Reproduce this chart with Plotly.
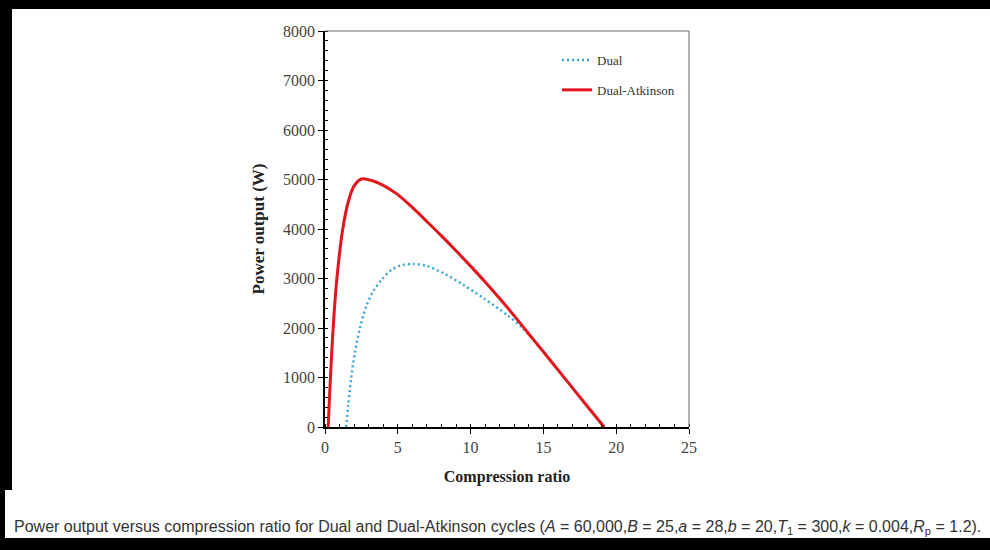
import plotly.graph_objects as go

# Dual-Atkinson cycle (solid red)
ratio_atk = [0.22, 0.3, 0.4, 0.55, 0.8, 1.22, 1.6, 2.0, 2.5, 3.0, 3.5, 4.0, 4.5, 5.0,
             6.0, 7.0, 8.0, 9.0, 10.0, 11.0, 12.0, 13.0, 14.0, 15.0, 16.0, 17.0, 18.0, 19.17]
power_atk = [0, 550, 1150, 1950, 2950, 4000, 4550, 4870, 5010, 4995, 4950, 4880, 4795, 4695,
             4435, 4150, 3860, 3560, 3250, 2930, 2595, 2245, 1880, 1520, 1155, 790, 425, 0]

# Dual cycle (dotted blue)
ratio_dual = [1.45, 1.6, 1.8, 2.05, 2.4, 2.85, 3.33, 3.9, 4.59, 5.28, 6.08, 7.0,
              8.15, 9.52, 10.9, 12.51, 13.5, 14.12, 15.0, 16.0, 17.0, 18.0, 19.2]
power_dual = [0, 450, 1000, 1500, 2000, 2450, 2750, 2980, 3180, 3270, 3293, 3253,
              3105, 2869, 2600, 2263, 2020, 1824, 1515, 1150, 785, 420, 0]

W, H = 990, 550
# plot area in pixels
L, R, T, B = 325, 689, 31, 427

fig = go.Figure()
fig.add_trace(go.Scatter(x=ratio_dual, y=power_dual, mode="lines", name="Dual",
                         legendgroup="a",
                         line=dict(color="#3aa8d8", width=2.5, dash="2px,3px", shape="spline", smoothing=0.8)))
fig.add_trace(go.Scatter(x=ratio_atk, y=power_atk, mode="lines", name="Dual-Atkinson",
                         legendgroup="b",
                         line=dict(color="#e3151d", width=3, shape="spline", smoothing=1.0)))

serif = "Liberation Serif, Times New Roman, serif"
tickfont = dict(family=serif, size=16, color="#444")

fig.update_xaxes(domain=[L / W, R / W], range=[0, 25], tickvals=[0, 5, 10, 15, 20, 25],
                 showgrid=False, zeroline=False, showline=True, linecolor="black", linewidth=1.5,
                 ticks="outside", ticklen=5, tickcolor="black", tickfont=tickfont,
                 minor=dict(dtick=1, ticks="inside", ticklen=3, tickcolor="black"),
                 title=dict(text="<b>Compression ratio</b>", font=dict(family=serif, size=16, color="#222"),
                            standoff=16),
                 automargin=False)
fig.update_yaxes(domain=[(H - B) / H, (H - T) / H], range=[0, 8000], dtick=1000,
                 showgrid=False, zeroline=False, showline=True, linecolor="black", linewidth=1.5,
                 ticks="outside", ticklen=5, tickcolor="black", tickfont=tickfont,
                 minor=dict(dtick=200, ticks="inside", ticklen=3, tickcolor="black"),
                 title=dict(text="<b>Power output (W)</b>", font=dict(family=serif, size=17, color="#222"),
                            standoff=14),
                 automargin=False)

def px(x):
    return x / W

def py(y):
    return 1 - y / H

shapes = [
    # top and right frame of the plot box
    dict(type="line", xref="paper", yref="paper", x0=px(L), x1=px(R), y0=py(T), y1=py(T),
         line=dict(color="#666", width=1)),
    dict(type="line", xref="paper", yref="paper", x0=px(R), x1=px(R), y0=py(T), y1=py(B),
         line=dict(color="#666", width=1)),
    # black border of the picture
    dict(type="rect", xref="paper", yref="paper", x0=0, x1=1, y0=py(9), y1=1,
         fillcolor="black", line_width=0),
    dict(type="rect", xref="paper", yref="paper", x0=0, x1=1, y0=0, y1=py(538),
         fillcolor="black", line_width=0),
    dict(type="rect", xref="paper", yref="paper", x0=0, x1=px(12), y0=py(490), y1=1,
         fillcolor="black", line_width=0),
    dict(type="rect", xref="paper", yref="paper", x0=0, x1=px(5), y0=0, y1=1,
         fillcolor="black", line_width=0),
]

caption = ("Power output versus compression ratio for Dual and Dual-Atkinson cycles "
           "(<i>A</i> = 60,000,<i>B</i> = 25,<i>a</i> = 28,<i>b</i> = 20,"
           "<i>T</i><sub>1</sub> = 300,<i>k</i> = 0.004,<i>R</i><sub>p</sub> = 1.2).")

fig.update_layout(
    width=W, height=H,
    margin=dict(l=0, r=0, t=0, b=0),
    paper_bgcolor="white", plot_bgcolor="white",
    shapes=shapes,
    showlegend=True,
    legend=dict(x=px(557), y=py(45), xanchor="left", yanchor="top",
                bgcolor="rgba(0,0,0,0)", tracegroupgap=10,
                font=dict(family=serif, size=13, color="#333")),
    annotations=[dict(text=caption, xref="paper", yref="paper", x=px(12), y=py(527),
                      xanchor="left", yanchor="middle", showarrow=False,
                      font=dict(family="Liberation Sans Narrow, Liberation Sans, sans-serif",
                                size=16, color="#333"))],
)

# drop the page's default body margin so the figure sits at the window origin
fig.write_html("out.html", config={"displayModeBar": False},
               post_script="document.body.style.margin='0';")
